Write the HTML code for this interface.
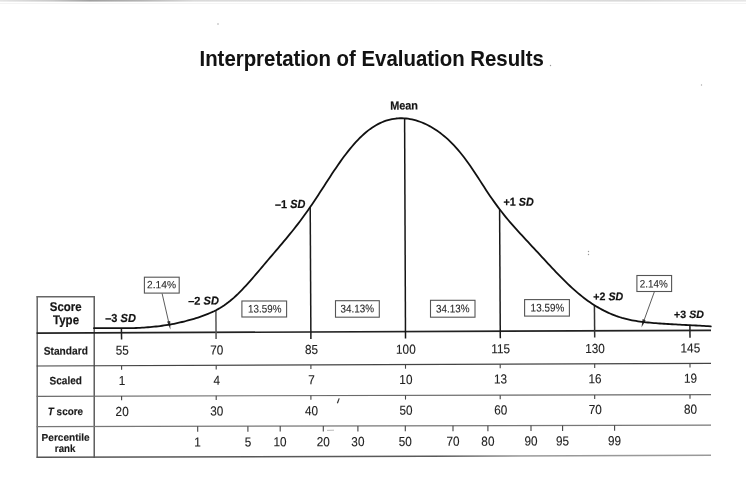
<!DOCTYPE html>
<html><head><meta charset="utf-8"><title>Interpretation of Evaluation Results</title>
<style>
html,body{margin:0;padding:0;background:#fff;}
body{width:746px;height:498px;overflow:hidden;}
svg{display:block;filter:blur(0.3px);font-family:"Liberation Sans",Arial,Helvetica,sans-serif;}
</style></head><body>
<svg width="746" height="498" viewBox="0 0 746 498">
<rect width="746" height="498" fill="#fff"/>
<defs><linearGradient id="tg" x1="0" y1="0" x2="746" y2="0" gradientUnits="userSpaceOnUse">
<stop offset="0" stop-color="#e4e4e4"/><stop offset="0.07" stop-color="#c8c8c8"/><stop offset="0.12" stop-color="#a0a0a0"/>
<stop offset="0.19" stop-color="#b4b4b4"/><stop offset="0.26" stop-color="#dadada"/><stop offset="0.6" stop-color="#e2e2e2"/>
<stop offset="0.85" stop-color="#d8d8d8"/><stop offset="1" stop-color="#e6e6e6"/></linearGradient></defs>
<linearGradient id="bg" x1="36" y1="0" x2="711" y2="0" gradientUnits="userSpaceOnUse"><stop offset="0" stop-color="#555"/><stop offset="0.6" stop-color="#5a5a5a"/><stop offset="0.72" stop-color="#999"/><stop offset="1" stop-color="#999"/></linearGradient>
<rect x="0" y="0" width="746" height="1.6" fill="url(#tg)"/>
<rect x="0" y="3" width="746" height="1" fill="#f4f4f4"/>
<circle cx="218" cy="24" r="0.8" fill="#aaa"/>
<circle cx="588.5" cy="251.5" r="0.7" fill="#999"/><circle cx="588.5" cy="254.5" r="0.7" fill="#999"/>
<circle cx="701.5" cy="85" r="0.7" fill="#aaa"/><line x1="339.2" y1="398.4" x2="337.4" y2="403.2" stroke="#333" stroke-width="1.2"/><line x1="327" y1="430.4" x2="334" y2="430.2" stroke="#bbb" stroke-width="1"/><circle cx="550.5" cy="65.5" r="0.7" fill="#999"/>
<line x1="37.20" y1="296.00" x2="37.20" y2="458.00" stroke="#666" stroke-width="1.5"/>
<line x1="94.20" y1="296.00" x2="94.20" y2="458.00" stroke="#444" stroke-width="1.3"/>
<line x1="36.60" y1="296.80" x2="94.80" y2="296.80" stroke="#666" stroke-width="1.5"/>
<line x1="36.60" y1="333.10" x2="711.00" y2="330.40" stroke="#222" stroke-width="1.7"/>
<line x1="36.60" y1="366.00" x2="711.00" y2="363.30" stroke="#444" stroke-width="1.2"/>
<line x1="36.60" y1="396.30" x2="711.00" y2="394.60" stroke="#6a6a6a" stroke-width="1.2"/>
<line x1="36.60" y1="426.70" x2="711.00" y2="425.10" stroke="#777" stroke-width="1.2"/>
<line x1="36.60" y1="457.30" x2="711.00" y2="455.30" stroke="url(#bg)" stroke-width="1.5"/>
<rect x="144.4" y="277.2" width="34.8" height="15.9" fill="none" stroke="#555" stroke-width="1.1"/>
<rect x="241.9" y="301.0" width="44.7" height="16.0" fill="none" stroke="#555" stroke-width="1.1"/>
<rect x="335.5" y="300.7" width="43.8" height="16.5" fill="none" stroke="#555" stroke-width="1.1"/>
<rect x="430.5" y="300.3" width="44.5" height="16.9" fill="none" stroke="#555" stroke-width="1.1"/>
<rect x="524.6" y="299.6" width="44.8" height="16.5" fill="none" stroke="#555" stroke-width="1.1"/>
<rect x="636.9" y="275.5" width="34.7" height="16.0" fill="none" stroke="#555" stroke-width="1.1"/>
<line x1="162.10" y1="293.50" x2="169.60" y2="326.00" stroke="#4a4a4a" stroke-width="0.9"/>
<path d="M170.4,329.4 L167.1,321.6 L170.2,320.9 Z" fill="#333"/>
<line x1="654.40" y1="291.70" x2="642.60" y2="324.30" stroke="#4a4a4a" stroke-width="0.9"/>
<path d="M641.5,327.4 L642.6,319.1 L645.6,320.2 Z" fill="#333"/>
<line x1="121.40" y1="328.22" x2="121.60" y2="339.50" stroke="#222" stroke-width="1.5"/>
<line x1="215.90" y1="310.23" x2="216.10" y2="339.00" stroke="#555" stroke-width="1.5"/>
<line x1="310.20" y1="207.02" x2="310.90" y2="339.00" stroke="#1a1a1a" stroke-width="1.5"/>
<line x1="404.60" y1="118.38" x2="405.50" y2="338.60" stroke="#151515" stroke-width="1.5"/>
<line x1="499.60" y1="209.21" x2="500.30" y2="338.20" stroke="#1a1a1a" stroke-width="1.5"/>
<line x1="594.40" y1="305.19" x2="594.70" y2="337.60" stroke="#333" stroke-width="1.5"/>
<line x1="689.90" y1="325.18" x2="690.00" y2="337.80" stroke="#222" stroke-width="1.5"/>
<line x1="121.60" y1="365.66" x2="121.60" y2="369.86" stroke="#444" stroke-width="1.1"/>
<line x1="121.60" y1="396.09" x2="121.60" y2="400.29" stroke="#444" stroke-width="1.1"/>
<line x1="216.20" y1="365.28" x2="216.20" y2="369.48" stroke="#444" stroke-width="1.1"/>
<line x1="216.20" y1="395.85" x2="216.20" y2="400.05" stroke="#444" stroke-width="1.1"/>
<line x1="310.90" y1="364.90" x2="310.90" y2="369.10" stroke="#444" stroke-width="1.1"/>
<line x1="310.90" y1="395.61" x2="310.90" y2="399.81" stroke="#444" stroke-width="1.1"/>
<line x1="405.50" y1="364.52" x2="405.50" y2="368.72" stroke="#444" stroke-width="1.1"/>
<line x1="405.50" y1="395.37" x2="405.50" y2="399.57" stroke="#444" stroke-width="1.1"/>
<line x1="500.20" y1="364.14" x2="500.20" y2="368.34" stroke="#444" stroke-width="1.1"/>
<line x1="500.20" y1="395.13" x2="500.20" y2="399.33" stroke="#444" stroke-width="1.1"/>
<line x1="594.70" y1="363.77" x2="594.70" y2="367.97" stroke="#444" stroke-width="1.1"/>
<line x1="594.70" y1="394.89" x2="594.70" y2="399.09" stroke="#444" stroke-width="1.1"/>
<line x1="690.00" y1="363.38" x2="690.00" y2="367.58" stroke="#444" stroke-width="1.1"/>
<line x1="690.00" y1="394.65" x2="690.00" y2="398.85" stroke="#444" stroke-width="1.1"/>
<line x1="197.70" y1="426.32" x2="197.70" y2="431.82" stroke="#444" stroke-width="1.1"/>
<line x1="247.90" y1="426.20" x2="247.90" y2="431.70" stroke="#444" stroke-width="1.1"/>
<line x1="280.20" y1="426.12" x2="280.20" y2="431.62" stroke="#444" stroke-width="1.1"/>
<line x1="323.30" y1="426.02" x2="323.30" y2="431.52" stroke="#444" stroke-width="1.1"/>
<line x1="357.90" y1="425.94" x2="357.90" y2="431.44" stroke="#444" stroke-width="1.1"/>
<line x1="405.30" y1="425.83" x2="405.30" y2="431.33" stroke="#444" stroke-width="1.1"/>
<line x1="453.00" y1="425.71" x2="453.00" y2="431.21" stroke="#444" stroke-width="1.1"/>
<line x1="487.90" y1="425.63" x2="487.90" y2="431.13" stroke="#444" stroke-width="1.1"/>
<line x1="531.00" y1="425.53" x2="531.00" y2="431.03" stroke="#444" stroke-width="1.1"/>
<line x1="562.60" y1="425.45" x2="562.60" y2="430.95" stroke="#444" stroke-width="1.1"/>
<line x1="614.60" y1="425.33" x2="614.60" y2="430.83" stroke="#444" stroke-width="1.1"/>
<text x="115.66" y="354.80" font-size="13.1" textLength="13.11" lengthAdjust="spacingAndGlyphs" fill="#222" stroke="#222" stroke-width="0.12" transform="rotate(-0.2 122.2 350.8)">55</text>
<text x="210.18" y="354.43" font-size="13.1" textLength="13.11" lengthAdjust="spacingAndGlyphs" fill="#222" stroke="#222" stroke-width="0.12" transform="rotate(-0.2 216.8 350.4)">70</text>
<text x="304.94" y="354.06" font-size="13.1" textLength="13.11" lengthAdjust="spacingAndGlyphs" fill="#222" stroke="#222" stroke-width="0.12" transform="rotate(-0.2 311.5 350.1)">85</text>
<text x="396.05" y="353.69" font-size="13.1" textLength="19.67" lengthAdjust="spacingAndGlyphs" fill="#222" stroke="#222" stroke-width="0.12" transform="rotate(-0.2 406.1 349.7)">100</text>
<text x="491.21" y="353.33" font-size="13.1" textLength="18.80" lengthAdjust="spacingAndGlyphs" fill="#222" stroke="#222" stroke-width="0.12" transform="rotate(-0.2 500.8 349.3)">115</text>
<text x="585.25" y="352.96" font-size="13.1" textLength="19.67" lengthAdjust="spacingAndGlyphs" fill="#222" stroke="#222" stroke-width="0.12" transform="rotate(-0.2 595.3 349.0)">130</text>
<text x="680.56" y="352.58" font-size="13.1" textLength="19.67" lengthAdjust="spacingAndGlyphs" fill="#222" stroke="#222" stroke-width="0.12" transform="rotate(-0.2 690.6 348.6)">145</text>
<text x="118.77" y="385.00" font-size="13.1" textLength="6.56" lengthAdjust="spacingAndGlyphs" fill="#222" stroke="#222" stroke-width="0.12" transform="rotate(-0.2 122.2 381.0)">1</text>
<text x="213.56" y="384.63" font-size="13.1" textLength="6.56" lengthAdjust="spacingAndGlyphs" fill="#222" stroke="#222" stroke-width="0.12" transform="rotate(-0.2 216.8 380.6)">4</text>
<text x="308.23" y="384.26" font-size="13.1" textLength="6.56" lengthAdjust="spacingAndGlyphs" fill="#222" stroke="#222" stroke-width="0.12" transform="rotate(-0.2 311.5 380.3)">7</text>
<text x="399.34" y="383.89" font-size="13.1" textLength="13.11" lengthAdjust="spacingAndGlyphs" fill="#222" stroke="#222" stroke-width="0.12" transform="rotate(-0.2 406.1 379.9)">10</text>
<text x="494.06" y="383.53" font-size="13.1" textLength="13.11" lengthAdjust="spacingAndGlyphs" fill="#222" stroke="#222" stroke-width="0.12" transform="rotate(-0.2 500.8 379.5)">13</text>
<text x="588.56" y="383.16" font-size="13.1" textLength="13.11" lengthAdjust="spacingAndGlyphs" fill="#222" stroke="#222" stroke-width="0.12" transform="rotate(-0.2 595.3 379.2)">16</text>
<text x="683.88" y="382.78" font-size="13.1" textLength="13.11" lengthAdjust="spacingAndGlyphs" fill="#222" stroke="#222" stroke-width="0.12" transform="rotate(-0.2 690.6 378.8)">19</text>
<text x="115.58" y="415.90" font-size="13.1" textLength="13.11" lengthAdjust="spacingAndGlyphs" fill="#222" stroke="#222" stroke-width="0.12" transform="rotate(-0.2 122.2 411.9)">20</text>
<text x="210.26" y="415.53" font-size="13.1" textLength="13.11" lengthAdjust="spacingAndGlyphs" fill="#222" stroke="#222" stroke-width="0.12" transform="rotate(-0.2 216.8 411.5)">30</text>
<text x="305.04" y="415.16" font-size="13.1" textLength="13.11" lengthAdjust="spacingAndGlyphs" fill="#222" stroke="#222" stroke-width="0.12" transform="rotate(-0.2 311.5 411.2)">40</text>
<text x="399.54" y="414.79" font-size="13.1" textLength="13.11" lengthAdjust="spacingAndGlyphs" fill="#222" stroke="#222" stroke-width="0.12" transform="rotate(-0.2 406.1 410.8)">50</text>
<text x="494.18" y="414.43" font-size="13.1" textLength="13.11" lengthAdjust="spacingAndGlyphs" fill="#222" stroke="#222" stroke-width="0.12" transform="rotate(-0.2 500.8 410.4)">60</text>
<text x="588.68" y="414.06" font-size="13.1" textLength="13.11" lengthAdjust="spacingAndGlyphs" fill="#222" stroke="#222" stroke-width="0.12" transform="rotate(-0.2 595.3 410.1)">70</text>
<text x="684.03" y="413.68" font-size="13.1" textLength="13.11" lengthAdjust="spacingAndGlyphs" fill="#222" stroke="#222" stroke-width="0.12" transform="rotate(-0.2 690.6 409.7)">80</text>
<text x="194.27" y="446.60" font-size="13.1" textLength="6.56" lengthAdjust="spacingAndGlyphs" fill="#222" stroke="#222" stroke-width="0.12" transform="rotate(-0.2 197.7 442.6)">1</text>
<text x="244.63" y="446.45" font-size="13.1" textLength="6.56" lengthAdjust="spacingAndGlyphs" fill="#222" stroke="#222" stroke-width="0.12" transform="rotate(-0.2 247.9 442.4)">5</text>
<text x="273.44" y="446.35" font-size="13.1" textLength="13.11" lengthAdjust="spacingAndGlyphs" fill="#222" stroke="#222" stroke-width="0.12" transform="rotate(-0.2 280.2 442.4)">10</text>
<text x="316.68" y="446.22" font-size="13.1" textLength="13.11" lengthAdjust="spacingAndGlyphs" fill="#222" stroke="#222" stroke-width="0.12" transform="rotate(-0.2 323.3 442.2)">20</text>
<text x="351.36" y="446.12" font-size="13.1" textLength="13.11" lengthAdjust="spacingAndGlyphs" fill="#222" stroke="#222" stroke-width="0.12" transform="rotate(-0.2 357.9 442.1)">30</text>
<text x="398.74" y="445.98" font-size="13.1" textLength="13.11" lengthAdjust="spacingAndGlyphs" fill="#222" stroke="#222" stroke-width="0.12" transform="rotate(-0.2 405.3 442.0)">50</text>
<text x="446.38" y="445.83" font-size="13.1" textLength="13.11" lengthAdjust="spacingAndGlyphs" fill="#222" stroke="#222" stroke-width="0.12" transform="rotate(-0.2 453.0 441.8)">70</text>
<text x="481.33" y="445.73" font-size="13.1" textLength="13.11" lengthAdjust="spacingAndGlyphs" fill="#222" stroke="#222" stroke-width="0.12" transform="rotate(-0.2 487.9 441.7)">80</text>
<text x="524.40" y="445.60" font-size="13.1" textLength="13.11" lengthAdjust="spacingAndGlyphs" fill="#222" stroke="#222" stroke-width="0.12" transform="rotate(-0.2 531.0 441.6)">90</text>
<text x="556.01" y="445.50" font-size="13.1" textLength="13.11" lengthAdjust="spacingAndGlyphs" fill="#222" stroke="#222" stroke-width="0.12" transform="rotate(-0.2 562.6 441.5)">95</text>
<text x="608.04" y="445.35" font-size="13.1" textLength="13.11" lengthAdjust="spacingAndGlyphs" fill="#222" stroke="#222" stroke-width="0.12" transform="rotate(-0.2 614.6 441.3)">99</text>
<text id="title" x="199.48" y="65.96" font-size="22.40" textLength="344.45" lengthAdjust="spacingAndGlyphs" fill="#121212" stroke="#121212" stroke-width="0.05" transform="rotate(0 372.1 60.2)"><tspan font-weight="bold" font-style="normal">Interpretation of Evaluation Results</tspan></text>
<text id="mean" x="390.18" y="109.60" font-size="11.90" textLength="27.84" lengthAdjust="spacingAndGlyphs" fill="#151515" stroke="#151515" stroke-width="0.2" transform="rotate(-0.2 404.1 105.7)"><tspan font-weight="bold" font-style="normal">Mean</tspan></text>
<text id="sdm1" x="274.95" y="208.10" font-size="11.73" textLength="30.34" lengthAdjust="spacingAndGlyphs" fill="#111" stroke="#111" stroke-width="0.2" transform="rotate(-0.2 290.1 204.1)"><tspan font-weight="bold" font-style="normal">–1 </tspan><tspan font-weight="bold" font-style="italic">SD</tspan></text>
<text id="sdp1" x="503.54" y="205.83" font-size="11.45" textLength="30.25" lengthAdjust="spacingAndGlyphs" fill="#111" stroke="#111" stroke-width="0.2" transform="rotate(-0.2 518.8 202.1)"><tspan font-weight="bold" font-style="normal">+1 </tspan><tspan font-weight="bold" font-style="italic">SD</tspan></text>
<text id="sdm2" x="188.17" y="304.61" font-size="11.45" textLength="30.71" lengthAdjust="spacingAndGlyphs" fill="#111" stroke="#111" stroke-width="0.2" transform="rotate(-0.2 203.6 300.8)"><tspan font-weight="bold" font-style="normal">–2 </tspan><tspan font-weight="bold" font-style="italic">SD</tspan></text>
<text id="sdp2" x="593.33" y="300.33" font-size="11.17" textLength="29.96" lengthAdjust="spacingAndGlyphs" fill="#111" stroke="#111" stroke-width="0.2" transform="rotate(-0.2 608.3 296.6)"><tspan font-weight="bold" font-style="normal">+2 </tspan><tspan font-weight="bold" font-style="italic">SD</tspan></text>
<text id="sdm3" x="105.17" y="321.94" font-size="11.55" textLength="30.71" lengthAdjust="spacingAndGlyphs" fill="#111" stroke="#111" stroke-width="0.2" transform="rotate(-0.2 120.6 318.1)"><tspan font-weight="bold" font-style="normal">–3 </tspan><tspan font-weight="bold" font-style="italic">SD</tspan></text>
<text id="sdp3" x="674.11" y="318.09" font-size="10.70" textLength="29.76" lengthAdjust="spacingAndGlyphs" fill="#111" stroke="#111" stroke-width="0.2" transform="rotate(-0.2 689.0 314.5)"><tspan font-weight="bold" font-style="normal">+3 </tspan><tspan font-weight="bold" font-style="italic">SD</tspan></text>
<text id="score" x="49.80" y="310.95" font-size="12.58" textLength="31.82" lengthAdjust="spacingAndGlyphs" fill="#151515" stroke="#151515" stroke-width="0.2" transform="rotate(-0.2 65.7 306.8)"><tspan font-weight="bold" font-style="normal">Score</tspan></text>
<text id="type" x="53.02" y="324.27" font-size="12.85" textLength="26.02" lengthAdjust="spacingAndGlyphs" fill="#151515" stroke="#151515" stroke-width="0.2" transform="rotate(-0.2 65.8 321.4)"><tspan font-weight="bold" font-style="normal">Type</tspan></text>
<text id="std" x="43.69" y="354.61" font-size="11.16" textLength="44.21" lengthAdjust="spacingAndGlyphs" fill="#1a1a1a" stroke="#1a1a1a" stroke-width="0.15" transform="rotate(-0.2 65.7 350.7)"><tspan font-weight="bold" font-style="normal">Standard</tspan></text>
<text id="scaled" x="49.48" y="384.33" font-size="11.02" textLength="32.56" lengthAdjust="spacingAndGlyphs" fill="#1a1a1a" stroke="#1a1a1a" stroke-width="0.15" transform="rotate(-0.2 65.5 380.6)"><tspan font-weight="bold" font-style="normal">Scaled</tspan></text>
<text id="tscore" x="47.80" y="415.11" font-size="10.75" textLength="35.26" lengthAdjust="spacingAndGlyphs" fill="#1a1a1a" stroke="#1a1a1a" stroke-width="0.15" transform="rotate(-0.2 65.7 411.5)"><tspan font-weight="bold" font-style="italic">T</tspan><tspan font-weight="bold" font-style="normal"> score</tspan></text>
<text id="pct" x="41.60" y="440.84" font-size="10.07" textLength="48.09" lengthAdjust="spacingAndGlyphs" fill="#1a1a1a" stroke="#1a1a1a" stroke-width="0.15" transform="rotate(-0.2 65.8 437.4)"><tspan font-weight="bold" font-style="normal">Percentile</tspan></text>
<text id="rank" x="54.87" y="451.98" font-size="10.48" textLength="20.63" lengthAdjust="spacingAndGlyphs" fill="#1a1a1a" stroke="#1a1a1a" stroke-width="0.15" transform="rotate(-0.2 65.5 448.4)"><tspan font-weight="bold" font-style="normal">rank</tspan></text>
<text id="box0" x="146.99" y="288.17" font-size="10.53" textLength="28.99" lengthAdjust="spacingAndGlyphs" fill="#2a2a2a" stroke="#2a2a2a" stroke-width="0.1" transform="rotate(-0.2 161.6 284.6)"><tspan font-weight="normal" font-style="normal">2.14%</tspan></text>
<text id="box1" x="248.04" y="312.47" font-size="10.88" textLength="33.38" lengthAdjust="spacingAndGlyphs" fill="#2a2a2a" stroke="#2a2a2a" stroke-width="0.1" transform="rotate(-0.2 265.0 308.9)"><tspan font-weight="normal" font-style="normal">13.59%</tspan></text>
<text id="box2" x="340.49" y="312.39" font-size="11.02" textLength="33.63" lengthAdjust="spacingAndGlyphs" fill="#2a2a2a" stroke="#2a2a2a" stroke-width="0.1" transform="rotate(-0.2 357.3 308.6)"><tspan font-weight="normal" font-style="normal">34.13%</tspan></text>
<text id="box3" x="435.91" y="312.39" font-size="11.02" textLength="33.65" lengthAdjust="spacingAndGlyphs" fill="#2a2a2a" stroke="#2a2a2a" stroke-width="0.1" transform="rotate(-0.2 452.8 308.6)"><tspan font-weight="normal" font-style="normal">34.13%</tspan></text>
<text id="box4" x="530.62" y="311.53" font-size="11.02" textLength="33.58" lengthAdjust="spacingAndGlyphs" fill="#2a2a2a" stroke="#2a2a2a" stroke-width="0.1" transform="rotate(-0.2 547.6 307.7)"><tspan font-weight="normal" font-style="normal">13.59%</tspan></text>
<text id="box5" x="639.78" y="287.45" font-size="10.82" textLength="28.04" lengthAdjust="spacingAndGlyphs" fill="#2a2a2a" stroke="#2a2a2a" stroke-width="0.1" transform="rotate(-0.2 653.8 283.7)"><tspan font-weight="normal" font-style="normal">2.14%</tspan></text>
<path d="M94.0,328.22 L96.0,328.22 L98.0,328.22 L100.0,328.22 L102.0,328.22 L104.0,328.22 L106.0,328.22 L108.0,328.22 L110.0,328.22 L112.0,328.22 L114.0,328.22 L116.0,328.22 L118.0,328.22 L120.0,328.22 L122.0,328.22 L124.0,328.22 L126.0,328.22 L128.0,328.22 L130.0,328.22 L132.0,328.15 L134.0,328.08 L136.0,327.99 L138.0,327.90 L140.0,327.79 L142.0,327.67 L144.0,327.55 L146.0,327.40 L148.0,327.25 L150.0,327.08 L152.0,326.90 L154.0,326.71 L156.0,326.50 L158.0,326.27 L160.0,326.03 L162.0,325.76 L164.0,325.48 L166.0,325.19 L168.0,324.87 L170.0,324.53 L172.0,324.16 L174.0,323.78 L176.0,323.37 L178.0,322.93 L180.0,322.48 L182.0,322.00 L184.0,321.51 L186.0,321.00 L188.0,320.47 L190.0,319.92 L192.0,319.35 L194.0,318.77 L196.0,318.16 L198.0,317.53 L200.0,316.86 L202.0,316.17 L204.0,315.45 L206.0,314.69 L208.0,313.89 L210.0,313.04 L212.0,312.15 L214.0,311.20 L216.0,310.18 L218.0,309.10 L220.0,307.94 L222.0,306.71 L224.0,305.39 L226.0,303.99 L228.0,302.51 L230.0,300.95 L232.0,299.31 L234.0,297.58 L236.0,295.76 L238.0,293.87 L240.0,291.89 L242.0,289.85 L244.0,287.74 L246.0,285.57 L248.0,283.36 L250.0,281.11 L252.0,278.83 L254.0,276.52 L256.0,274.19 L258.0,271.84 L260.0,269.49 L262.0,267.12 L264.0,264.75 L266.0,262.39 L268.0,260.03 L270.0,257.68 L272.0,255.33 L274.0,252.99 L276.0,250.65 L278.0,248.30 L280.0,245.95 L282.0,243.58 L284.0,241.20 L286.0,238.81 L288.0,236.39 L290.0,233.94 L292.0,231.47 L294.0,228.96 L296.0,226.41 L298.0,223.83 L300.0,221.19 L302.0,218.51 L304.0,215.78 L306.0,213.00 L308.0,210.18 L310.0,207.31 L312.0,204.40 L314.0,201.44 L316.0,198.44 L318.0,195.40 L320.0,192.34 L322.0,189.25 L324.0,186.15 L326.0,183.06 L328.0,179.97 L330.0,176.90 L332.0,173.86 L334.0,170.85 L336.0,167.89 L338.0,164.98 L340.0,162.12 L342.0,159.32 L344.0,156.59 L346.0,153.93 L348.0,151.35 L350.0,148.86 L352.0,146.45 L354.0,144.13 L356.0,141.90 L358.0,139.77 L360.0,137.74 L362.0,135.81 L364.0,133.98 L366.0,132.26 L368.0,130.65 L370.0,129.14 L372.0,127.74 L374.0,126.43 L376.0,125.23 L378.0,124.13 L380.0,123.13 L382.0,122.23 L384.0,121.42 L386.0,120.71 L388.0,120.09 L390.0,119.57 L392.0,119.13 L394.0,118.78 L396.0,118.52 L398.0,118.35 L400.0,118.26 L402.0,118.25 L404.0,118.33 L406.0,118.48 L408.0,118.72 L410.0,119.03 L412.0,119.42 L414.0,119.89 L416.0,120.44 L418.0,121.06 L420.0,121.75 L422.0,122.52 L424.0,123.37 L426.0,124.29 L428.0,125.28 L430.0,126.34 L432.0,127.48 L434.0,128.70 L436.0,129.99 L438.0,131.36 L440.0,132.81 L442.0,134.35 L444.0,135.96 L446.0,137.66 L448.0,139.45 L450.0,141.33 L452.0,143.30 L454.0,145.38 L456.0,147.55 L458.0,149.83 L460.0,152.22 L462.0,154.71 L464.0,157.30 L466.0,159.97 L468.0,162.73 L470.0,165.57 L472.0,168.47 L474.0,171.45 L476.0,174.47 L478.0,177.54 L480.0,180.63 L482.0,183.73 L484.0,186.82 L486.0,189.89 L488.0,192.92 L490.0,195.89 L492.0,198.79 L494.0,201.63 L496.0,204.40 L498.0,207.10 L500.0,209.74 L502.0,212.32 L504.0,214.84 L506.0,217.31 L508.0,219.71 L510.0,222.07 L512.0,224.38 L514.0,226.65 L516.0,228.89 L518.0,231.10 L520.0,233.30 L522.0,235.48 L524.0,237.65 L526.0,239.81 L528.0,241.97 L530.0,244.12 L532.0,246.27 L534.0,248.42 L536.0,250.57 L538.0,252.73 L540.0,254.89 L542.0,257.05 L544.0,259.21 L546.0,261.37 L548.0,263.52 L550.0,265.66 L552.0,267.79 L554.0,269.91 L556.0,272.01 L558.0,274.10 L560.0,276.16 L562.0,278.19 L564.0,280.19 L566.0,282.16 L568.0,284.09 L570.0,285.98 L572.0,287.83 L574.0,289.64 L576.0,291.40 L578.0,293.11 L580.0,294.77 L582.0,296.38 L584.0,297.94 L586.0,299.45 L588.0,300.90 L590.0,302.30 L592.0,303.65 L594.0,304.94 L596.0,306.19 L598.0,307.38 L600.0,308.52 L602.0,309.62 L604.0,310.67 L606.0,311.66 L608.0,312.61 L610.0,313.51 L612.0,314.36 L614.0,315.16 L616.0,315.91 L618.0,316.60 L620.0,317.25 L622.0,317.86 L624.0,318.42 L626.0,318.94 L628.0,319.42 L630.0,319.86 L632.0,320.26 L634.0,320.63 L636.0,320.97 L638.0,321.29 L640.0,321.57 L642.0,321.83 L644.0,322.07 L646.0,322.30 L648.0,322.50 L650.0,322.69 L652.0,322.87 L654.0,323.04 L656.0,323.20 L658.0,323.35 L660.0,323.49 L662.0,323.63 L664.0,323.76 L666.0,323.89 L668.0,324.01 L670.0,324.13 L672.0,324.25 L674.0,324.36 L676.0,324.47 L678.0,324.58 L680.0,324.68 L682.0,324.79 L684.0,324.89 L686.0,324.99 L688.0,325.09 L690.0,325.18 L692.0,325.28 L694.0,325.38 L696.0,325.48 L698.0,325.58 L700.0,325.68 L702.0,325.79 L704.0,325.91 L706.0,326.03 L708.0,326.16 L710.8,326.37" fill="none" stroke="#111" stroke-width="1.8" stroke-linejoin="round" stroke-linecap="round"/>
</svg>
</body></html>
